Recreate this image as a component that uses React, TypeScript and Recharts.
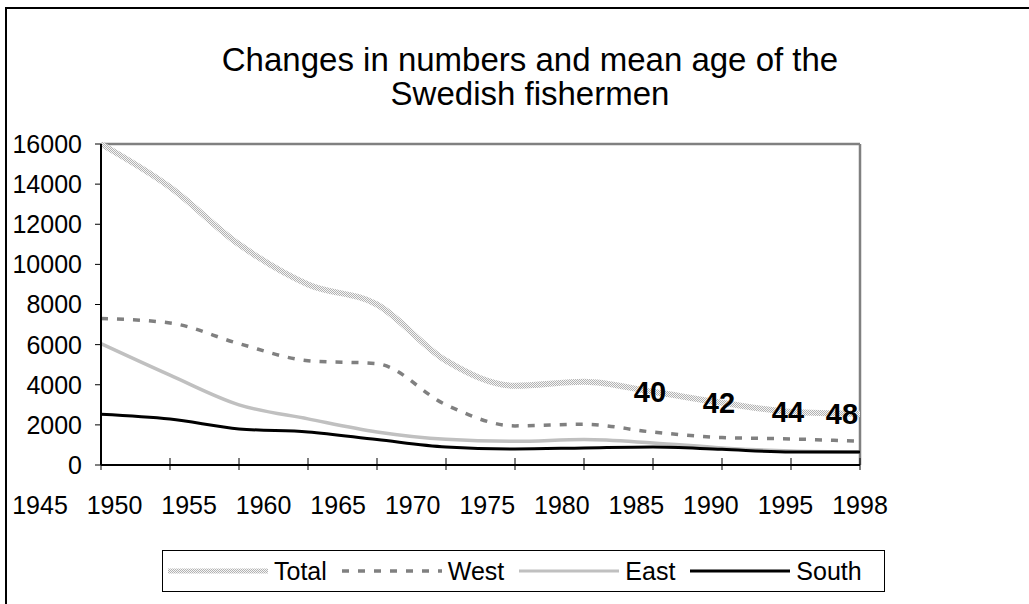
import React from 'react'
import { LineChart, Line, XAxis, YAxis, ReferenceLine, Legend, LabelList } from 'recharts'

// values
const years = ['1945', '1950', '1955', '1960', '1965', '1970', '1975', '1980', '1985', '1990', '1995', '1998']
const total = [16000, 13850, 11000, 9000, 8000, 5200, 3950, 4150, 3650, 3100, 2650, 2550]
const west = [7300, 7080, 6050, 5200, 5050, 3000, 1950, 2030, 1640, 1370, 1300, 1180]
const east = [6050, 4480, 3000, 2300, 1650, 1280, 1180, 1270, 1100, 850, 700, 650]
const south = [2530, 2290, 1800, 1650, 1270, 900, 800, 850, 900, 780, 650, 650]
const meanAge: (number | null)[] = [null, null, null, null, null, null, null, null, 40, 42, 44, 48]
const yTicks = [0, 2000, 4000, 6000, 8000, 10000, 12000, 14000, 16000]

const data = years.map((year, i) => ({
  year,
  total: total[i],
  west: west[i],
  east: east[i],
  south: south[i],
  age: meanAge[i],
}))

const FONT = '"Liberation Sans", Arial, sans-serif'

const legendItems = [
  { name: 'Total', stroke: 'url(#stippleLegend)', width: 5, dash: undefined as string | undefined },
  { name: 'West', stroke: '#808080', width: 3.5, dash: '7 9' },
  { name: 'East', stroke: '#c0c0c0', width: 3, dash: undefined },
  { name: 'South', stroke: '#000', width: 3, dash: undefined },
]

function Stipple({ id }: { id: string }) {
  return (
    <pattern id={id} width={2} height={2} patternUnits="userSpaceOnUse">
      <rect width={2} height={2} fill="#f6f6f6" />
      <rect width={1} height={1} fill="#b2b2b2" />
      <rect x={1} y={1} width={1} height={1} fill="#b2b2b2" />
    </pattern>
  )
}

function LegendBox() {
  return (
    <div style={{
      boxSizing: 'border-box', width: 723, height: 42, border: '1px solid #000', background: '#fff',
      display: 'flex', alignItems: 'center', paddingLeft: 5, fontFamily: FONT, fontSize: 25, color: '#000',
    }}>
      {legendItems.map((it) => (
        <div key={it.name} style={{ display: 'flex', alignItems: 'center', marginRight: 15 }}>
          <svg width={100} height={10}>
            <defs><Stipple id="stippleLegend" /></defs>
            <line x1={0} x2={100} y1={5} y2={5} stroke={it.stroke} strokeWidth={it.width} strokeDasharray={it.dash} />
          </svg>
          <span style={{ marginLeft: 6, lineHeight: '26px' }}>{it.name}</span>
        </div>
      ))}
    </div>
  )
}

function AgeLabel(props: any) {
  const { x, y, value } = props
  if (value == null) return null
  return (
    <text x={Math.min(x - 3, 842)} y={y} textAnchor="middle" dominantBaseline="central"
      fontFamily={FONT} fontWeight="bold" fontSize={29} fill="#000">
      {value}
    </text>
  )
}

// tick marks cross the axis line, as in the original
function CrossTick(props: any) {
  const { x, y } = props
  return <line x1={x} x2={x} y1={y - 7} y2={y + 5} stroke="#000" strokeWidth={1} />
}

export default function App() {
  return (
    <div style={{ position: 'absolute', left: 0, top: 0, width: 1029, height: 604, overflow: 'hidden', background: '#fff' }}>
      <div style={{
        position: 'absolute', left: 5, top: 7, width: 1024, height: 597,
        borderLeft: '2px solid #000', borderTop: '2px solid #000', boxSizing: 'border-box',
      }} />
      <div style={{
        position: 'absolute', left: 180, top: 43, width: 700, textAlign: 'center',
        fontFamily: FONT, fontSize: 33, lineHeight: '34px', color: '#000',
      }}>
        Changes in numbers and mean age of the<br />Swedish fishermen
      </div>
      <div style={{ position: 'absolute', left: 0, top: 0 }}>
        <LineChart width={1029} height={604} data={data}
          margin={{ top: 144, right: 169, bottom: 69, left: 11 }}>
          <defs><Stipple id="stipple" /></defs>
          <XAxis dataKey="year" height={31} tickSize={0} tickMargin={0} tickLine={false}
            axisLine={{ stroke: '#000', strokeWidth: 2 }} tick={<CrossTick />} interval={0} />
          <XAxis xAxisId="labels" dataKey="year" height={39} padding={{ left: -61, right: 0 }}
            axisLine={false} tickLine={false} tickSize={0} tickMargin={0} interval={0}
            tick={{ fontSize: 25, fill: '#000', fontFamily: FONT }} />
          <YAxis width={90} domain={[0, 16000]} ticks={yTicks} interval={0} tickSize={6} tickMargin={13}
            axisLine={{ stroke: '#000', strokeWidth: 2 }} tickLine={{ stroke: '#000' }}
            tick={{ fontSize: 25, fill: '#000', fontFamily: FONT }} />
          <ReferenceLine y={16000} stroke="#808080" strokeWidth={2.5} />
          <ReferenceLine x="1998" stroke="#808080" strokeWidth={2.5} />
          <Line type="monotone" dataKey="total" name="Total" stroke="url(#stipple)" strokeWidth={6}
            dot={false} isAnimationActive={false}>
            <LabelList dataKey="age" content={<AgeLabel />} />
          </Line>
          <Line type="monotone" dataKey="west" name="West" stroke="#808080" strokeWidth={3.5}
            strokeDasharray="7 9" dot={false} isAnimationActive={false} />
          <Line type="monotone" dataKey="east" name="East" stroke="#c0c0c0" strokeWidth={3.5}
            dot={false} isAnimationActive={false} />
          <Line type="monotone" dataKey="south" name="South" stroke="#000" strokeWidth={3}
            dot={false} isAnimationActive={false} />
          <Legend layout="horizontal" verticalAlign="middle" align="center" content={<LegendBox />}
            wrapperStyle={{ left: 162, top: 550, width: 723, height: 42 }} />
        </LineChart>
      </div>
    </div>
  )
}
